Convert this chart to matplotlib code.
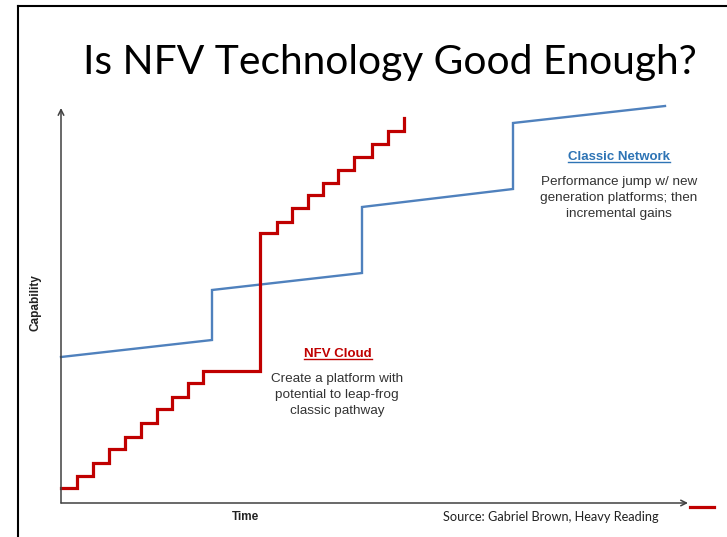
import numpy as np
import matplotlib
matplotlib.use("Agg")
import matplotlib.pyplot as plt
from matplotlib.lines import Line2D

W, H = 727, 537

# capability curves (time units along x, capability units along y)
nfv_time = [0, 16, 32, 48, 64, 80, 96, 111, 127, 142,
            199, 216, 231, 247, 262, 277, 293, 311, 327, 343]
nfv_cap = [15, 27, 40, 54, 66, 80, 94, 106, 120, 132,
           270, 281, 295, 308, 320, 333, 346, 359, 372, 385]

classic_time = [0, 151, 151, 301, 301, 452, 452, 604]
classic_cap = [146, 163, 213, 230, 296, 314, 380, 397]

title = "Is NFV Technology Good Enough?"
nfv_label = "NFV Cloud"
nfv_note = "Create a platform with\npotential to leap-frog\nclassic pathway"
classic_label = "Classic Network"
classic_note = "Performance jump w/ new\ngeneration platforms; then\nincremental gains"
source = "Source: Gabriel Brown, Heavy Reading"

RED = "#C00000"
BLUE = "#4F81BD"
BLUE_TXT = "#2E74B5"
AXIS = "#404040"
NOTE = "#333333"


def px(x, y):
    """pixel position -> figure fraction"""
    return x / W, 1 - y / H


fig = plt.figure(figsize=(W / 100, H / 100), dpi=100)
fig.patch.set_facecolor("white")

# chart area
x0, y0 = px(61, 503)
x1, y1 = px(688, 108)
ax = fig.add_axes([x0, y0, x1 - x0, y1 - y0])
ax.set_xlim(0, 627)
ax.set_ylim(0, 395)
ax.axis("off")

ax.plot(classic_time, classic_cap, color=BLUE, lw=1.7, clip_on=False,
        solid_joinstyle="miter")
ax.plot(nfv_time, nfv_cap, color=RED, lw=2.3, drawstyle="steps-post",
        clip_on=False, solid_joinstyle="miter")

# axis arrows
arrow = dict(arrowstyle="->", color=AXIS, lw=1.1, shrinkA=0, shrinkB=0,
             mutation_scale=10)
ax.annotate("", xy=(0, 1), xytext=(0, 0), xycoords="axes fraction",
            arrowprops=arrow)
ax.annotate("", xy=(1, 0), xytext=(0, 0), xycoords="axes fraction",
            arrowprops=arrow)

# small red dash past the time arrow
ax.plot([629, 653], [-4, -4], color=RED, lw=2.3, clip_on=False)

sans = ["Liberation Sans", "DejaVu Sans"]
ax.text(-26, 200, "Capability", rotation=90, ha="center", va="center",
        fontsize=8.5, fontweight="bold", family=sans, color="#222222")
ax.text(184, -14, "Time", ha="center", va="center", fontsize=8.5,
        fontweight="bold", family=sans, color="#222222")

t_nfv = ax.text(277, 149, nfv_label, ha="center", va="center", fontsize=9.5,
                fontweight="bold", family=sans, color=RED)
ax.text(276, 108, nfv_note, ha="center", va="center", fontsize=9.7,
        family=sans, color=NOTE, linespacing=1.45)

t_cls = ax.text(558, 346, classic_label, ha="center", va="center",
                fontsize=9.5, fontweight="bold", family=sans, color=BLUE_TXT)
ax.text(558, 305, classic_note, ha="center", va="center", fontsize=9.7,
        family=sans, color=NOTE, linespacing=1.45)

fig.text(*px(551, 517), source, ha="center", va="center", fontsize=9.2,
         family=["Lato", "DejaVu Sans"], color="#222222")

fig.text(*px(390, 74), title, ha="center", va="baseline", fontsize=29.3,
         family=["Lato", "DejaVu Sans"], color="black")

# underline the two series labels
fig.canvas.draw()
renderer = fig.canvas.get_renderer()
for t in (t_nfv, t_cls):
    bb = t.get_window_extent(renderer)
    yline = bb.y0 + 1
    fig.add_artist(Line2D([bb.x0 / W, bb.x1 / W], [yline / H, yline / H],
                          color=t.get_color(), lw=1.0))

# slide frame (top and left edge)
fig.add_artist(Line2D([18 / W, 1], [1 - 6 / H, 1 - 6 / H], color="black", lw=1.5))
fig.add_artist(Line2D([18 / W, 18 / W], [0, 1 - 6 / H], color="black", lw=1.5))

fig.savefig("out.png", dpi=100, facecolor="white")
